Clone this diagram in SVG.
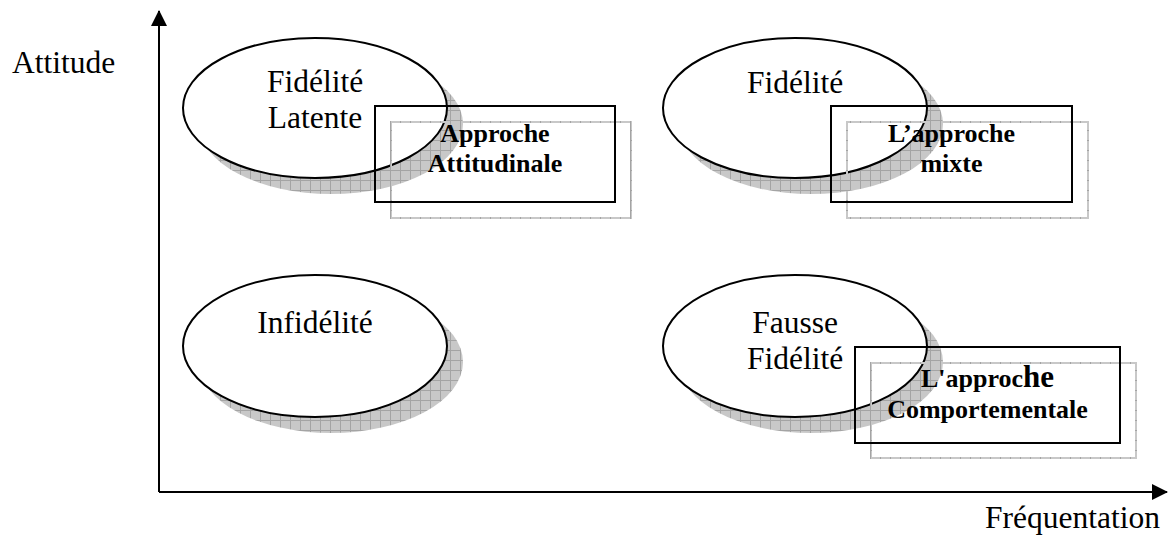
<svg xmlns="http://www.w3.org/2000/svg" width="1172" height="539" viewBox="0 0 1172 539">
  <defs>
    <!-- stippled grey fill with a 10px grid, used for drop shadows -->
    <pattern id="grid" patternUnits="userSpaceOnUse" width="10" height="10">
      <rect width="10" height="10" fill="#c8c8c8"/>
      <path d="M0 0.5H10M0.5 0V10" stroke="#a4a4a4" stroke-width="1" fill="none"/>
    </pattern>
    <marker id="arrow" viewBox="0 0 16 16" refX="15" refY="8" markerWidth="16" markerHeight="16" markerUnits="userSpaceOnUse" orient="auto">
      <path d="M0 0L16 8L0 16Z" fill="#000"/>
    </marker>
  </defs>
  <style>
    .shadow { fill: url(#grid); stroke: none; }
    .oval { fill: #fff; stroke: #000; stroke-width: 2; }
    .boxshadow { fill: none; stroke: url(#grid); stroke-width: 2; }
    .box { fill: none; stroke: #000; stroke-width: 2; }
    .axis { stroke: #000; stroke-width: 2; fill: none; }
    .lbl { font-family: "Liberation Serif", "Times New Roman", serif; font-size: 31.5px; fill: #000; }
    .blbl { font-family: "Liberation Serif", "Times New Roman", serif; font-size: 26px; font-weight: bold; fill: #000; text-anchor: middle; }
    .mid { text-anchor: middle; }
  </style>

  <rect width="1172" height="539" fill="#fff"/>

  <!-- axes -->
  <g id="connectors">
    <path class="axis" d="M159 492V11" marker-end="url(#arrow)"/>
    <path class="axis" d="M159 492H1167" marker-end="url(#arrow)"/>
  </g>

  <text class="lbl" x="12" y="73">Attitude</text>
  <text class="lbl" x="985" y="528">Fréquentation</text>

  <!-- latent loyalty -->
  <g id="fidelite-latente">
    <ellipse class="shadow" cx="331" cy="124" rx="132" ry="70"/>
    <ellipse class="oval" cx="315" cy="108" rx="132" ry="70"/>
    <text class="lbl mid" x="315" y="92">Fidélité</text>
    <text class="lbl mid" x="315" y="128">Latente</text>
  </g>
  <g id="approche-attitudinale">
    <rect class="boxshadow" x="391" y="122" width="240" height="96"/>
    <rect class="box" x="375" y="106" width="240" height="96"/>
    <text class="blbl" x="495" y="142">Approche</text>
    <text class="blbl" x="495" y="172">Attitudinale</text>
  </g>

  <!-- loyalty -->
  <g id="fidelite">
    <ellipse class="shadow" cx="811" cy="124" rx="132" ry="70"/>
    <ellipse class="oval" cx="795" cy="108" rx="132" ry="70"/>
    <text class="lbl mid" x="795" y="93">Fidélité</text>
  </g>
  <g id="approche-mixte">
    <rect class="boxshadow" x="847" y="122" width="241" height="96"/>
    <rect class="box" x="831" y="106" width="241" height="96"/>
    <text class="blbl" x="951.5" y="142">L’approche</text>
    <text class="blbl" x="951.5" y="172">mixte</text>
  </g>

  <!-- disloyalty -->
  <g id="infidelite">
    <ellipse class="shadow" cx="331" cy="362" rx="132" ry="71"/>
    <ellipse class="oval" cx="315" cy="346" rx="132" ry="71"/>
    <text class="lbl mid" x="315" y="333">Infidélité</text>
  </g>

  <!-- spurious loyalty -->
  <g id="fausse-fidelite">
    <ellipse class="shadow" cx="811" cy="362" rx="132" ry="71"/>
    <ellipse class="oval" cx="795" cy="346" rx="132" ry="71"/>
    <text class="lbl mid" x="795" y="333">Fausse</text>
    <text class="lbl mid" x="795" y="369">Fidélité</text>
  </g>
  <g id="approche-comportementale">
    <rect class="boxshadow" x="871" y="363" width="265" height="95"/>
    <rect class="box" x="855" y="347" width="265" height="96"/>
    <text class="blbl" x="987.5" y="387">L'approc<tspan font-size="31">he</tspan></text>
    <text class="blbl" x="987.5" y="418">Comportementale</text>
  </g>
</svg>
